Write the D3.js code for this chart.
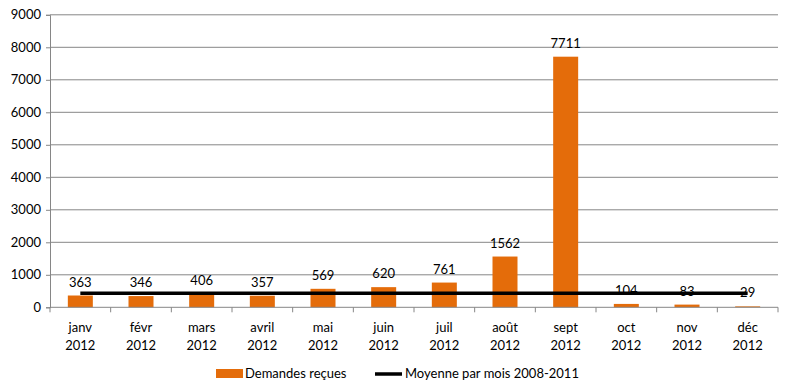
<!DOCTYPE html>
<html><head><meta charset="utf-8">
<script src="https://cdn.jsdelivr.net/npm/d3@7"></script>
<style>body{margin:0;background:#fff}svg{display:block;font-family:Lato,"Open Sans",sans-serif}</style>
</head><body><svg id="c" width="791" height="391"></svg>
<script>
const months = ["janv","févr","mars","avril","mai","juin","juil","août","sept","oct","nov","déc"];
const years = ["2012","2012","2012","2012","2012","2012","2012","2012","2012","2012","2012","2012"];
const demandes = [363,346,406,357,569,620,761,1562,7711,104,83,29];
const moyenne = [430,430,430,430,430,430,430,430,430,430,430,430];
const yTicks = [0,1000,2000,3000,4000,5000,6000,7000,8000,9000];
const seriesNames = ["Demandes reçues","Moyenne par mois 2008-2011"];

const svg = d3.select("#c");
const L=50, R=778, T=14.8, B=307.3;
const x = d3.scaleBand().domain(d3.range(12)).range([L,R]);
const y = d3.scaleLinear().domain([0,9000]).range([B,T]);
const grid="#868686";

// gridlines
svg.append("g").selectAll("line").data(yTicks.slice(1)).join("line")
  .attr("x1",L).attr("x2",R).attr("y1",d=>y(d)).attr("y2",d=>y(d))
  .attr("stroke",grid).attr("stroke-width",1);

// y axis
const ya = svg.append("g").attr("transform",`translate(${L},0)`)
  .call(d3.axisLeft(y).tickValues(yTicks).tickFormat(d3.format("d")).tickSize(4).tickPadding(5));
ya.select(".domain").attr("stroke",grid);
ya.selectAll(".tick line").attr("stroke",grid);
ya.selectAll("text").attr("font-size",13).attr("fill","#000").attr("font-family","Lato,sans-serif");

// bars
const bw = 25;
svg.append("g").selectAll("rect").data(demandes).join("rect")
  .attr("x",(d,i)=>x(i)+x.bandwidth()/2-bw/2).attr("width",bw)
  .attr("y",d=>y(d)).attr("height",d=>B-y(d)).attr("fill","#E46C0A");

// x axis
svg.append("line").attr("x1",L).attr("x2",R).attr("y1",B).attr("y2",B).attr("stroke",grid);
svg.append("g").selectAll("line").data(d3.range(13)).join("line")
  .attr("x1",i=>L+i*x.bandwidth()).attr("x2",i=>L+i*x.bandwidth())
  .attr("y1",B).attr("y2",B+5).attr("stroke",grid);
const xl = svg.append("g").selectAll("text").data(months).join("text")
  .attr("text-anchor","middle").attr("font-size",13).attr("fill","#000")
  .attr("x",(d,i)=>x(i)+x.bandwidth()/2);
xl.append("tspan").attr("x",(d,i)=>x(i)+x.bandwidth()/2).attr("y",332).text(d=>d);
xl.append("tspan").attr("x",(d,i)=>x(i)+x.bandwidth()/2).attr("y",350).text((d,i)=>years[i]);

// average line
const line = d3.line().x((d,i)=>x(i)+x.bandwidth()/2).y(d=>y(d));
svg.append("path").datum(moyenne).attr("d",line).attr("fill","none").attr("stroke","#000").attr("stroke-width",3.5);

// data labels
svg.append("g").selectAll("text").data(demandes).join("text")
  .attr("text-anchor","middle").attr("font-size",13).attr("fill","#000")
  .attr("x",(d,i)=>x(i)+x.bandwidth()/2).attr("y",d=>y(d)-9).text(d=>d);

// legend
const lg = svg.append("g");
lg.append("rect").attr("x",216).attr("y",369).attr("width",27).attr("height",9).attr("fill","#E46C0A");
lg.append("text").attr("x",245).attr("y",378).attr("font-size",13).text(seriesNames[0]);
lg.append("line").attr("x1",375).attr("x2",402).attr("y1",374).attr("y2",374).attr("stroke","#000").attr("stroke-width",3.5);
lg.append("text").attr("x",405).attr("y",378).attr("font-size",13).text(seriesNames[1]);
</script></body></html>
